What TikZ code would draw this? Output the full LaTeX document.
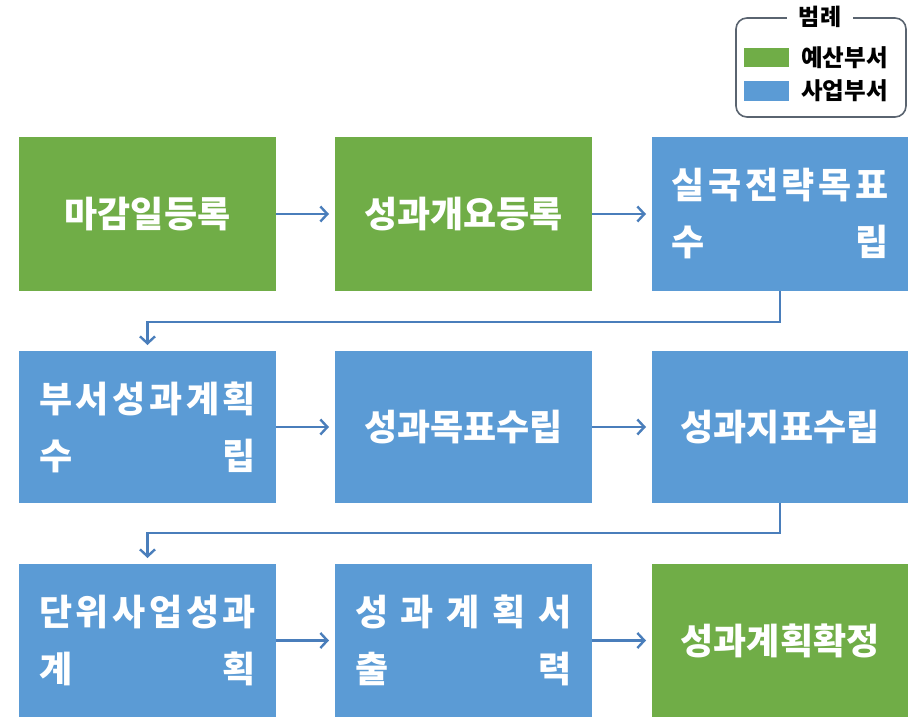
\documentclass[tikz,border=0pt]{standalone}
\usepackage{fontspec}
\newfontfamily\kr{Noto Sans CJK KR}
\usetikzlibrary{arrows.meta}
\definecolor{gfill}{HTML}{70AD47}
\definecolor{bfill}{HTML}{5B9BD5}
\definecolor{conncol}{HTML}{4A7EBB}
\definecolor{legcol}{HTML}{5A6470}
\newcommand\dl[1]{\makebox[217pt][s]{#1}}
\tikzset{
  boxbase/.style={inner sep=0pt, outer sep=0pt, text=white, align=center,
    font=\kr\bfseries\fontsize{36}{57}\selectfont},
  gbox/.style={boxbase, fill=gfill},
  bbox/.style={boxbase, fill=bfill},
  conn/.style={draw=conncol, line width=2.4pt,
    -{Straight Barb[length=7pt,width=15pt,line width=2.4pt]}, shorten >=6pt},
  legtext/.style={inner sep=0pt, anchor=west, font=\kr\bfseries\fontsize{23.5}{26}\selectfont}
}
\begin{document}
\begin{tikzpicture}[x=1pt,y=-1pt]
\useasboundingbox (0,0) rectangle (916,717);
\fill[white] (0,0) rectangle (916,717);
% legend
\draw[legcol, line width=1.6pt, rounded corners=11pt] (736,18) rectangle (906,117);
\node[inner sep=0pt, fill=white, minimum width=66pt, minimum height=14pt, font=\kr\bfseries\fontsize{23}{26}\selectfont] (legt) at (820,17) {범례};
\fill[gfill] (744,48) rectangle (789,67);
\fill[bfill] (744,81) rectangle (789,101);
\node[legtext] (lg) at (801,57.5) {예산부서};
\node[legtext] (lb) at (801,91) {사업부서};
% row 1
\node[gbox, minimum width=257pt, minimum height=154pt] (b1) at (147.5,214) {마감일등록};
\node[gbox, minimum width=257pt, minimum height=154pt] (b2) at (463.5,214) {성과개요등록};
\node[bbox, minimum width=256pt, minimum height=154pt] (b3) at (780,214) {\dl{실\hfill 국\hfill 전\hfill 략\hfill 목\hfill 표}\\\dl{수\hfill 립}};
% row 2
\node[bbox, minimum width=257pt, minimum height=152pt] (b4) at (147.5,427) {\dl{부\hfill 서\hfill 성\hfill 과\hfill 계\hfill 획}\\\dl{수\hfill 립}};
\node[bbox, minimum width=257pt, minimum height=152pt] (b5) at (463.5,427) {성과목표수립};
\node[bbox, minimum width=256pt, minimum height=152pt] (b6) at (780,427) {성과지표수립};
% row 3
\node[bbox, minimum width=257pt, minimum height=153pt] (b7) at (147.5,640.5) {\dl{단\hfill 위\hfill 사\hfill 업\hfill 성\hfill 과}\\\dl{계\hfill 획}};
\node[bbox, minimum width=257pt, minimum height=153pt] (b8) at (463.5,640.5) {\dl{성\hfill 과\hfill 계\hfill 획\hfill 서}\\\dl{출\hfill 력}};
\node[gbox, minimum width=256pt, minimum height=153pt] (b9) at (780,640.5) {성과계획확정};
% connectors
\draw[conn] (b1.east) -- (b2.west);
\draw[conn] (b2.east) -- (b3.west);
\draw[conn] (b3.south) -- ++(0,31) -| (b4.north);
\draw[conn] (b4.east) -- (b5.west);
\draw[conn] (b5.east) -- (b6.west);
\draw[conn] (b6.south) -- ++(0,30) -| (b7.north);
\draw[conn] (b7.east) -- (b8.west);
\draw[conn] (b8.east) -- (b9.west);
\end{tikzpicture}
\end{document}
